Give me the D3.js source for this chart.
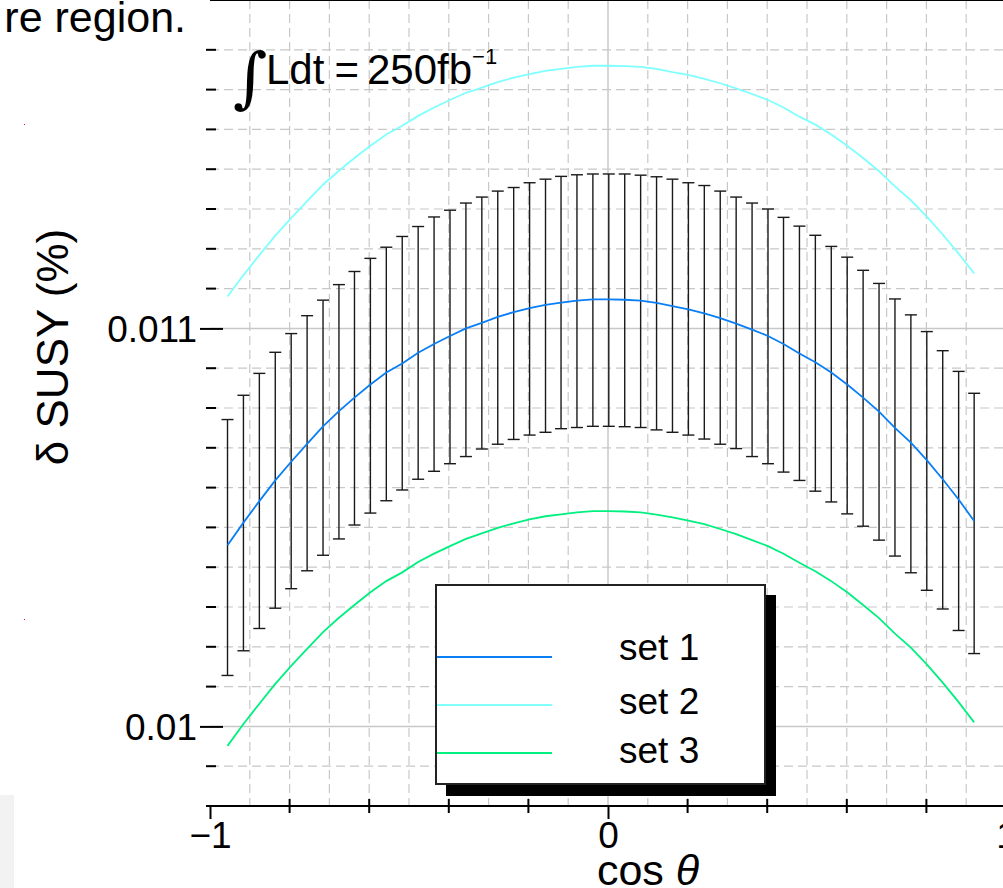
<!DOCTYPE html>
<html>
<head>
<meta charset="utf-8">
<script src="https://cdn.jsdelivr.net/npm/d3@7"></script>
<style>
body { margin: 0; background: #fff; }
svg { display: block; }
text { font-family: "Liberation Sans", Arial, sans-serif; fill: #000; }
</style>
</head>
<body>
<div id="chart"></div>
<script>
// cos(theta) sample points (one per error bar)
var cosTheta = [-0.956, -0.916, -0.876, -0.836, -0.796, -0.756, -0.716, -0.676, -0.637, -0.597,
    -0.557, -0.517, -0.477, -0.437, -0.397, -0.357, -0.317, -0.277, -0.237, -0.197,
    -0.157, -0.118, -0.078, -0.038, 0.002, 0.042, 0.082, 0.122, 0.162, 0.202,
    0.242, 0.282, 0.322, 0.362, 0.402, 0.441, 0.481, 0.521, 0.561, 0.601,
    0.641, 0.681, 0.721, 0.761, 0.801, 0.841, 0.881, 0.920];

var set1 = [0.010455, 0.010512, 0.010566, 0.010618, 0.010665, 0.010710, 0.010754, 0.010792, 0.010826, 0.010859,
    0.010889, 0.010912, 0.010939, 0.010961, 0.010981, 0.011000, 0.011014, 0.011029, 0.011041, 0.011051,
    0.011059, 0.011065, 0.011070, 0.011073, 0.011073, 0.011072, 0.011070, 0.011064, 0.011056, 0.011048,
    0.011038, 0.011026, 0.011012, 0.010997, 0.010981, 0.010961, 0.010937, 0.010915, 0.010889, 0.010859,
    0.010826, 0.010791, 0.010750, 0.010713, 0.010669, 0.010621, 0.010570, 0.010516];

var set2 = [0.011080, 0.011134, 0.011184, 0.011233, 0.011277, 0.011320, 0.011361, 0.011396, 0.011428, 0.011459,
    0.011487, 0.011509, 0.011534, 0.011555, 0.011574, 0.011592, 0.011605, 0.011619, 0.011630, 0.011639,
    0.011647, 0.011652, 0.011657, 0.011660, 0.011660, 0.011659, 0.011657, 0.011652, 0.011644, 0.011637,
    0.011627, 0.011616, 0.011603, 0.011589, 0.011574, 0.011555, 0.011532, 0.011512, 0.011487, 0.011459,
    0.011428, 0.011395, 0.011357, 0.011322, 0.011281, 0.011236, 0.011188, 0.011138];

var set3 = [0.009951, 0.010006, 0.010057, 0.010107, 0.010152, 0.010195, 0.010237, 0.010273, 0.010305, 0.010337,
    0.010365, 0.010387, 0.010413, 0.010434, 0.010453, 0.010471, 0.010485, 0.010499, 0.010510, 0.010520,
    0.010528, 0.010533, 0.010538, 0.010541, 0.010541, 0.010540, 0.010538, 0.010532, 0.010525, 0.010517,
    0.010508, 0.010496, 0.010483, 0.010468, 0.010453, 0.010434, 0.010411, 0.010390, 0.010365, 0.010337,
    0.010305, 0.010272, 0.010233, 0.010198, 0.010156, 0.010110, 0.010061, 0.010010];

// error band on set 1
var errHigh = [0.010771, 0.010832, 0.010887, 0.010940, 0.010987, 0.011032, 0.011071, 0.011110, 0.011143, 0.011176,
    0.011204, 0.011231, 0.011256, 0.011280, 0.011297, 0.011315, 0.011330, 0.011345, 0.011354, 0.011366,
    0.011375, 0.011382, 0.011386, 0.011388, 0.011388, 0.011388, 0.011385, 0.011381, 0.011375, 0.011366,
    0.011359, 0.011345, 0.011330, 0.011315, 0.011300, 0.011279, 0.011257, 0.011234, 0.011206, 0.011179,
    0.011146, 0.011113, 0.011074, 0.011034, 0.010992, 0.010944, 0.010892, 0.010837];

var errLow = [0.010128, 0.010190, 0.010246, 0.010297, 0.010346, 0.010391, 0.010430, 0.010471, 0.010506, 0.010536,
    0.010567, 0.010594, 0.010621, 0.010641, 0.010660, 0.010678, 0.010697, 0.010709, 0.010721, 0.010732,
    0.010739, 0.010748, 0.010751, 0.010754, 0.010754, 0.010753, 0.010751, 0.010745, 0.010739, 0.010732,
    0.010722, 0.010709, 0.010698, 0.010678, 0.010660, 0.010639, 0.010618, 0.010591, 0.010564, 0.010534,
    0.010503, 0.010468, 0.010428, 0.010386, 0.010342, 0.010295, 0.010241, 0.010183];

var seriesNames = ["set 1", "set 2", "set 3"];
var seriesColors = ["#0a7ff5", "#80ffff", "#00f080"];
var yMajorTicks = [0.01, 0.011];
var xMajorTicks = [-1, 0, 1];

var width = 1003, height = 888;
var svg = d3.select("#chart").append("svg")
    .attr("width", width)
    .attr("height", height);

var x = d3.scaleLinear().domain([-1, 1]).range([210, 1006]);
var y = d3.scaleLinear().domain([0.0098, 0.011795]).range([806, 12]);

var left = x(-1), right = width, top = y(0.011795), bottom = y(0.0098);

// slide text cut off by the crop
svg.append("text")
    .attr("x", 186).attr("y", 32)
    .attr("text-anchor", "end")
    .style("font-size", "43px")
    .text("re region.");
svg.append("rect").attr("x", 24).attr("y", 124).attr("width", 1).attr("height", 1).attr("fill", "#f00");
svg.append("rect").attr("x", 24).attr("y", 619).attr("width", 1).attr("height", 1).attr("fill", "#f00");
svg.append("rect").attr("x", 0).attr("y", 795).attr("width", 14).attr("height", 93).attr("fill", "#f2f2f2");

// grid: dashed minor lines, solid major ones
var grid = svg.append("g").attr("class", "grid");
var yMinor = d3.range(1, 20).filter(function(i) { return i !== 2 && i !== 12; })
    .map(function(i) { return 0.0098 + i * 0.0001; });
var xMinor = d3.range(1, 20).filter(function(i) { return i !== 10; })
    .map(function(i) { return -1 + i * 0.1; });

grid.selectAll(".hdash").data(yMinor).enter().append("line")
    .attr("x1", left).attr("x2", right)
    .attr("y1", function(d) { return y(d); }).attr("y2", function(d) { return y(d); })
    .attr("stroke", "#c8c8c8").attr("stroke-width", 1.2).attr("stroke-dasharray", "9,5");
grid.selectAll(".vdash").data(xMinor).enter().append("line")
    .attr("y1", top).attr("y2", bottom)
    .attr("x1", function(d) { return x(d); }).attr("x2", function(d) { return x(d); })
    .attr("stroke", "#c8c8c8").attr("stroke-width", 1.2).attr("stroke-dasharray", "9,5");
grid.selectAll(".hsolid").data(yMajorTicks).enter().append("line")
    .attr("x1", left).attr("x2", right)
    .attr("y1", function(d) { return y(d); }).attr("y2", function(d) { return y(d); })
    .attr("stroke", "#c8c8c8").attr("stroke-width", 1.5);
grid.append("line")
    .attr("x1", x(0)).attr("x2", x(0)).attr("y1", top).attr("y2", bottom)
    .attr("stroke", "#c8c8c8").attr("stroke-width", 1.5);

// error bars
var bars = svg.append("g").attr("class", "errbars")
    .selectAll("g").data(cosTheta).enter().append("g");
bars.append("line")
    .attr("x1", function(d) { return x(d); }).attr("x2", function(d) { return x(d); })
    .attr("y1", function(d, i) { return y(errLow[i]); })
    .attr("y2", function(d, i) { return y(errHigh[i]); })
    .attr("stroke", "#1a1a1a").attr("stroke-width", 1.4);
[errLow, errHigh].forEach(function(arr) {
    bars.append("line")
        .attr("x1", function(d) { return x(d) - 6; }).attr("x2", function(d) { return x(d) + 6; })
        .attr("y1", function(d, i) { return y(arr[i]); })
        .attr("y2", function(d, i) { return y(arr[i]); })
        .attr("stroke", "#1a1a1a").attr("stroke-width", 1.4);
});

// curves
var line = d3.line()
    .x(function(d) { return x(d[0]); })
    .y(function(d) { return y(d[1]); });
[set1, set2, set3].forEach(function(vals, k) {
    svg.append("path")
        .datum(cosTheta.map(function(c, i) { return [c, vals[i]]; }))
        .attr("fill", "none")
        .attr("stroke", seriesColors[k])
        .attr("stroke-width", 1.8)
        .attr("d", line);
});

// frame
svg.append("line").attr("x1", left).attr("x2", right).attr("y1", top).attr("y2", top)
    .attr("stroke", "#000").attr("stroke-width", 2);

// y axis
var yAxis = svg.append("g")
    .attr("transform", "translate(" + left + ",0)")
    .call(d3.axisLeft(y).tickValues(yMajorTicks).tickFormat(d3.format(".3~f")).tickSize(10));
yAxis.select(".domain").attr("stroke", "#000").attr("stroke-width", 2.2)
    .attr("d", "M0," + top + "V" + bottom);
yAxis.selectAll(".tick line").attr("x1", 13).attr("x2", -10).attr("stroke-width", 2);
yAxis.selectAll(".tick text")
    .attr("x", -13).attr("dy", "0.36em")
    .style("font-size", "37px")
    .style("font-family", "'Liberation Sans', Arial, sans-serif");
svg.append("g").selectAll("line").data(yMinor.concat([0.0098])).enter().append("line")
    .attr("x1", left - 4).attr("x2", left + 6)
    .attr("y1", function(d) { return y(d); }).attr("y2", function(d) { return y(d); })
    .attr("stroke", "#000").attr("stroke-width", 2);

// x axis
var xAxis = svg.append("g")
    .attr("transform", "translate(0," + bottom + ")")
    .call(d3.axisBottom(x).tickValues(xMajorTicks).tickFormat(d3.format("d")).tickSize(13));
xAxis.select(".domain").attr("stroke", "#000").attr("stroke-width", 2)
    .attr("d", "M" + left + ",0H" + (right + 10));
xAxis.selectAll(".tick line").attr("stroke-width", 2);
xAxis.selectAll(".tick text")
    .attr("y", 42).attr("dy", 0)
    .style("font-size", "37px")
    .style("font-family", "'Liberation Sans', Arial, sans-serif");
svg.append("g").selectAll("line").data([-0.8, -0.6, -0.4, -0.2, 0.2, 0.4, 0.6, 0.8]).enter().append("line")
    .attr("x1", function(d) { return x(d); }).attr("x2", function(d) { return x(d); })
    .attr("y1", bottom - 7).attr("y2", bottom + 7)
    .attr("stroke", "#000").attr("stroke-width", 2);

// axis titles
var xt = svg.append("text")
    .attr("x", 648).attr("y", 885)
    .attr("text-anchor", "middle")
    .style("font-size", "43px");
xt.append("tspan").text("cos ");
xt.append("tspan").style("font-style", "italic").text("θ");

svg.append("text")
    .attr("transform", "translate(68,347) rotate(-90)")
    .attr("text-anchor", "middle")
    .style("font-size", "44px")
    .text("δ SUSY (%)");

// luminosity note
svg.append("text")
    .attr("x", 233).attr("y", 100)
    .style("font-size", "66px")
    .style("font-family", "'DejaVu Serif', serif")
    .text("∫");
var lum = svg.append("text")
    .attr("x", 266).attr("y", 84)
    .style("font-size", "42px");
lum.append("tspan").text("Ldt");
lum.append("tspan").attr("dx", 10).text("=");
lum.append("tspan").attr("dx", 8).text("250fb");
lum.append("tspan").attr("dy", -20).style("font-size", "22px").text("−1");

// legend
var lg = svg.append("g").attr("class", "legend");
lg.append("rect")
    .attr("x", 446).attr("y", 595).attr("width", 330).attr("height", 201)
    .attr("fill", "#000");
lg.append("rect")
    .attr("x", 436).attr("y", 585).attr("width", 329).attr("height", 199)
    .attr("fill", "#fff").attr("stroke", "#222").attr("stroke-width", 2);
var lineY = [657, 705, 753];
var textY = [660, 714, 763];
seriesNames.forEach(function(name, k) {
    lg.append("line")
        .attr("x1", 437).attr("x2", 552)
        .attr("y1", lineY[k]).attr("y2", lineY[k])
        .attr("stroke", seriesColors[k]).attr("stroke-width", 2);
    lg.append("text")
        .attr("x", 619).attr("y", textY[k])
        .style("font-size", "37px")
        .text(name);
});
</script>
</body>
</html>
